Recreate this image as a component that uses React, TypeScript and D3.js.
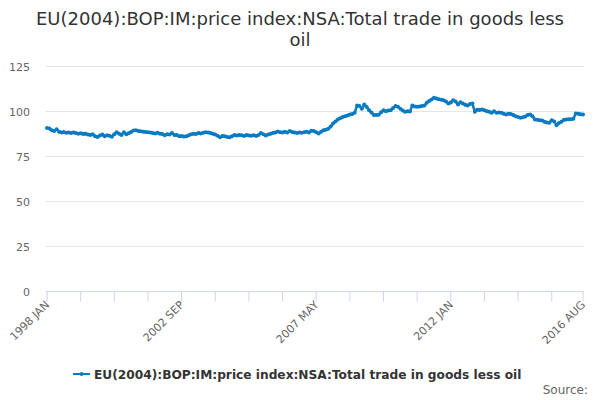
import * as d3 from "d3";

const TITLE_LINES = ["EU(2004):BOP:IM:price index:NSA:Total trade in goods less", "oil"];
const SERIES_NAME = "EU(2004):BOP:IM:price index:NSA:Total trade in goods less oil";

// monthly values, 1998 JAN .. 2016 AUG
const values = [
  90.9, 90.5, 89.6, 89.2, 90.1, 88.8, 88.4, 88.6, 88.2, 88.4, 88.0, 88.3, // 1998
  88.1, 87.7, 87.9, 87.5, 87.6, 87.2, 87.0, 87.4, 86.3, 85.9, 86.6, 87.2, // 1999
  86.2, 86.8, 86.5, 86.0, 87.4, 88.5, 87.6, 87.0, 88.5, 87.4, 87.9, 88.6, // 2000
  89.4, 89.6, 89.2, 89.0, 88.8, 88.6, 88.5, 88.3, 88.1, 87.8, 88.2, 87.6, // 2001
  87.5, 86.8, 87.4, 87.2, 88.0, 87.0, 86.9, 86.3, 86.4, 86.1, 86.2, 86.8, // 2002
  87.3, 87.6, 87.5, 88.0, 87.8, 88.2, 88.5, 88.3, 88.0, 87.6, 87.2, 86.5, // 2003
  85.7, 86.4, 86.2, 85.8, 85.7, 86.3, 86.9, 86.6, 87.0, 86.8, 86.4, 86.9, // 2004
  86.7, 86.5, 86.8, 86.4, 87.0, 88.0, 87.3, 86.7, 87.2, 87.6, 88.1, 88.3, // 2005
  88.9, 88.5, 88.3, 88.7, 88.4, 89.1, 88.6, 88.3, 88.0, 88.4, 88.2, 88.5, // 2006
  88.8, 88.4, 89.3, 89.1, 88.5, 87.8, 88.7, 89.6, 89.9, 90.4, 91.6, 93.3, // 2007
  94.5, 95.6, 96.3, 97.0, 97.4, 97.8, 98.3, 98.6, 99.3, 103.3, 103.0, 101.5, // 2008
  103.9, 102.5, 100.7, 99.5, 98.0, 98.1, 98.2, 99.6, 100.7, 100.2, 100.6, 100.7, // 2009
  102.0, 103.0, 102.6, 101.5, 100.5, 99.8, 100.2, 100.0, 103.3, 102.8, 102.6, 102.8, // 2010
  103.0, 103.3, 104.8, 105.8, 106.7, 107.6, 107.2, 106.8, 106.5, 106.3, 105.5, 104.4, // 2011
  105.0, 106.3, 105.5, 103.9, 105.2, 104.5, 103.8, 103.3, 104.2, 104.4, 99.8, 101.0, // 2012
  100.8, 101.1, 100.7, 100.2, 99.8, 99.3, 100.2, 99.3, 99.5, 99.3, 98.8, 98.3, // 2013
  98.8, 98.6, 98.0, 97.4, 97.0, 96.5, 96.8, 97.2, 98.0, 98.3, 97.4, 95.6, // 2014
  95.4, 95.2, 95.0, 94.3, 93.9, 93.7, 95.2, 94.5, 92.4, 93.6, 94.3, 95.3, // 2015
  95.6, 95.7, 95.7, 96.0, 98.9, 98.8, 98.5, 98.4, // 2016
];

const yTicks = [0, 25, 50, 75, 100, 125];
const xLabels = ["1998 JAN", "2002 SEP", "2007 MAY", "2012 JAN", "2016 AUG"];
const TICK_INTERVAL = 14;

const FONT = "'DejaVu Sans', sans-serif";
const BLUE = "#0a7bc2";

export default function App() {
  const width = 600;
  const height = 400;
  const last = values.length - 1;

  const x = d3.scaleLinear().domain([0, last]).range([47, 583]);
  const y = d3.scaleLinear().domain([0, 125]).range([291.5, 66.5]);

  const tickIdx: number[] = d3.range(0, last, TICK_INTERVAL);
  tickIdx.push(last);
  // labels every 4th tick plus the end
  const labelIdx = [0, 56, 112, 168, last];

  const line = d3
    .line<number>()
    .x((_, i) => x(i))
    .y((d) => y(d));

  return (
    <svg
      width={width}
      height={height}
      style={{ position: "absolute", left: 0, top: 0, fontFamily: FONT }}
    >
      <rect width={width} height={height} fill="#fff" />
      {TITLE_LINES.map((t, i) => (
        <text key={t} x={300} y={25 + i * 21} textAnchor="middle" fontSize={18} fill="#333">
          {t}
        </text>
      ))}

      {yTicks.map((t) => (
        <g key={t}>
          {t > 0 && (
            <line x1={46} x2={584} y1={y(t)} y2={y(t)} stroke="#e6e6e6" strokeWidth={1} />
          )}
          <text x={30} y={y(t) + 4} textAnchor="end" fontSize={11} fill="#666">
            {t}
          </text>
        </g>
      ))}

      <line x1={46} x2={584} y1={y(0)} y2={y(0)} stroke="#ccd6eb" strokeWidth={1} />
      {tickIdx.map((i) => (
        <line key={i} x1={x(i)} x2={x(i)} y1={y(0)} y2={y(0) + 10} stroke="#ccd6eb" strokeWidth={1} />
      ))}
      {labelIdx.map((i, k) => (
        <text
          key={i}
          x={x(i) + 3}
          y={y(0) + 14}
          textAnchor="end"
          fontSize={11}
          fill="#666"
          transform={`rotate(-45 ${x(i) + 3} ${y(0) + 14})`}
        >
          {xLabels[k]}
        </text>
      ))}

      <path d={line(values) ?? ""} fill="none" stroke={BLUE} strokeWidth={2.5} strokeLinejoin="round" />
      {values.map((v, i) => (
        <circle key={i} cx={x(i)} cy={y(v)} r={2} fill={BLUE} />
      ))}

      <line x1={73} x2={90} y1={374} y2={374} stroke={BLUE} strokeWidth={2} />
      <circle cx={81.5} cy={374} r={2} fill={BLUE} />
      <text x={94} y={378.5} fontSize={12.2} fontWeight="bold" fill="#333">
        {SERIES_NAME}
      </text>
      <text x={588} y={394} textAnchor="end" fontSize={12} fill="#666">
        Source:
      </text>
    </svg>
  );
}
